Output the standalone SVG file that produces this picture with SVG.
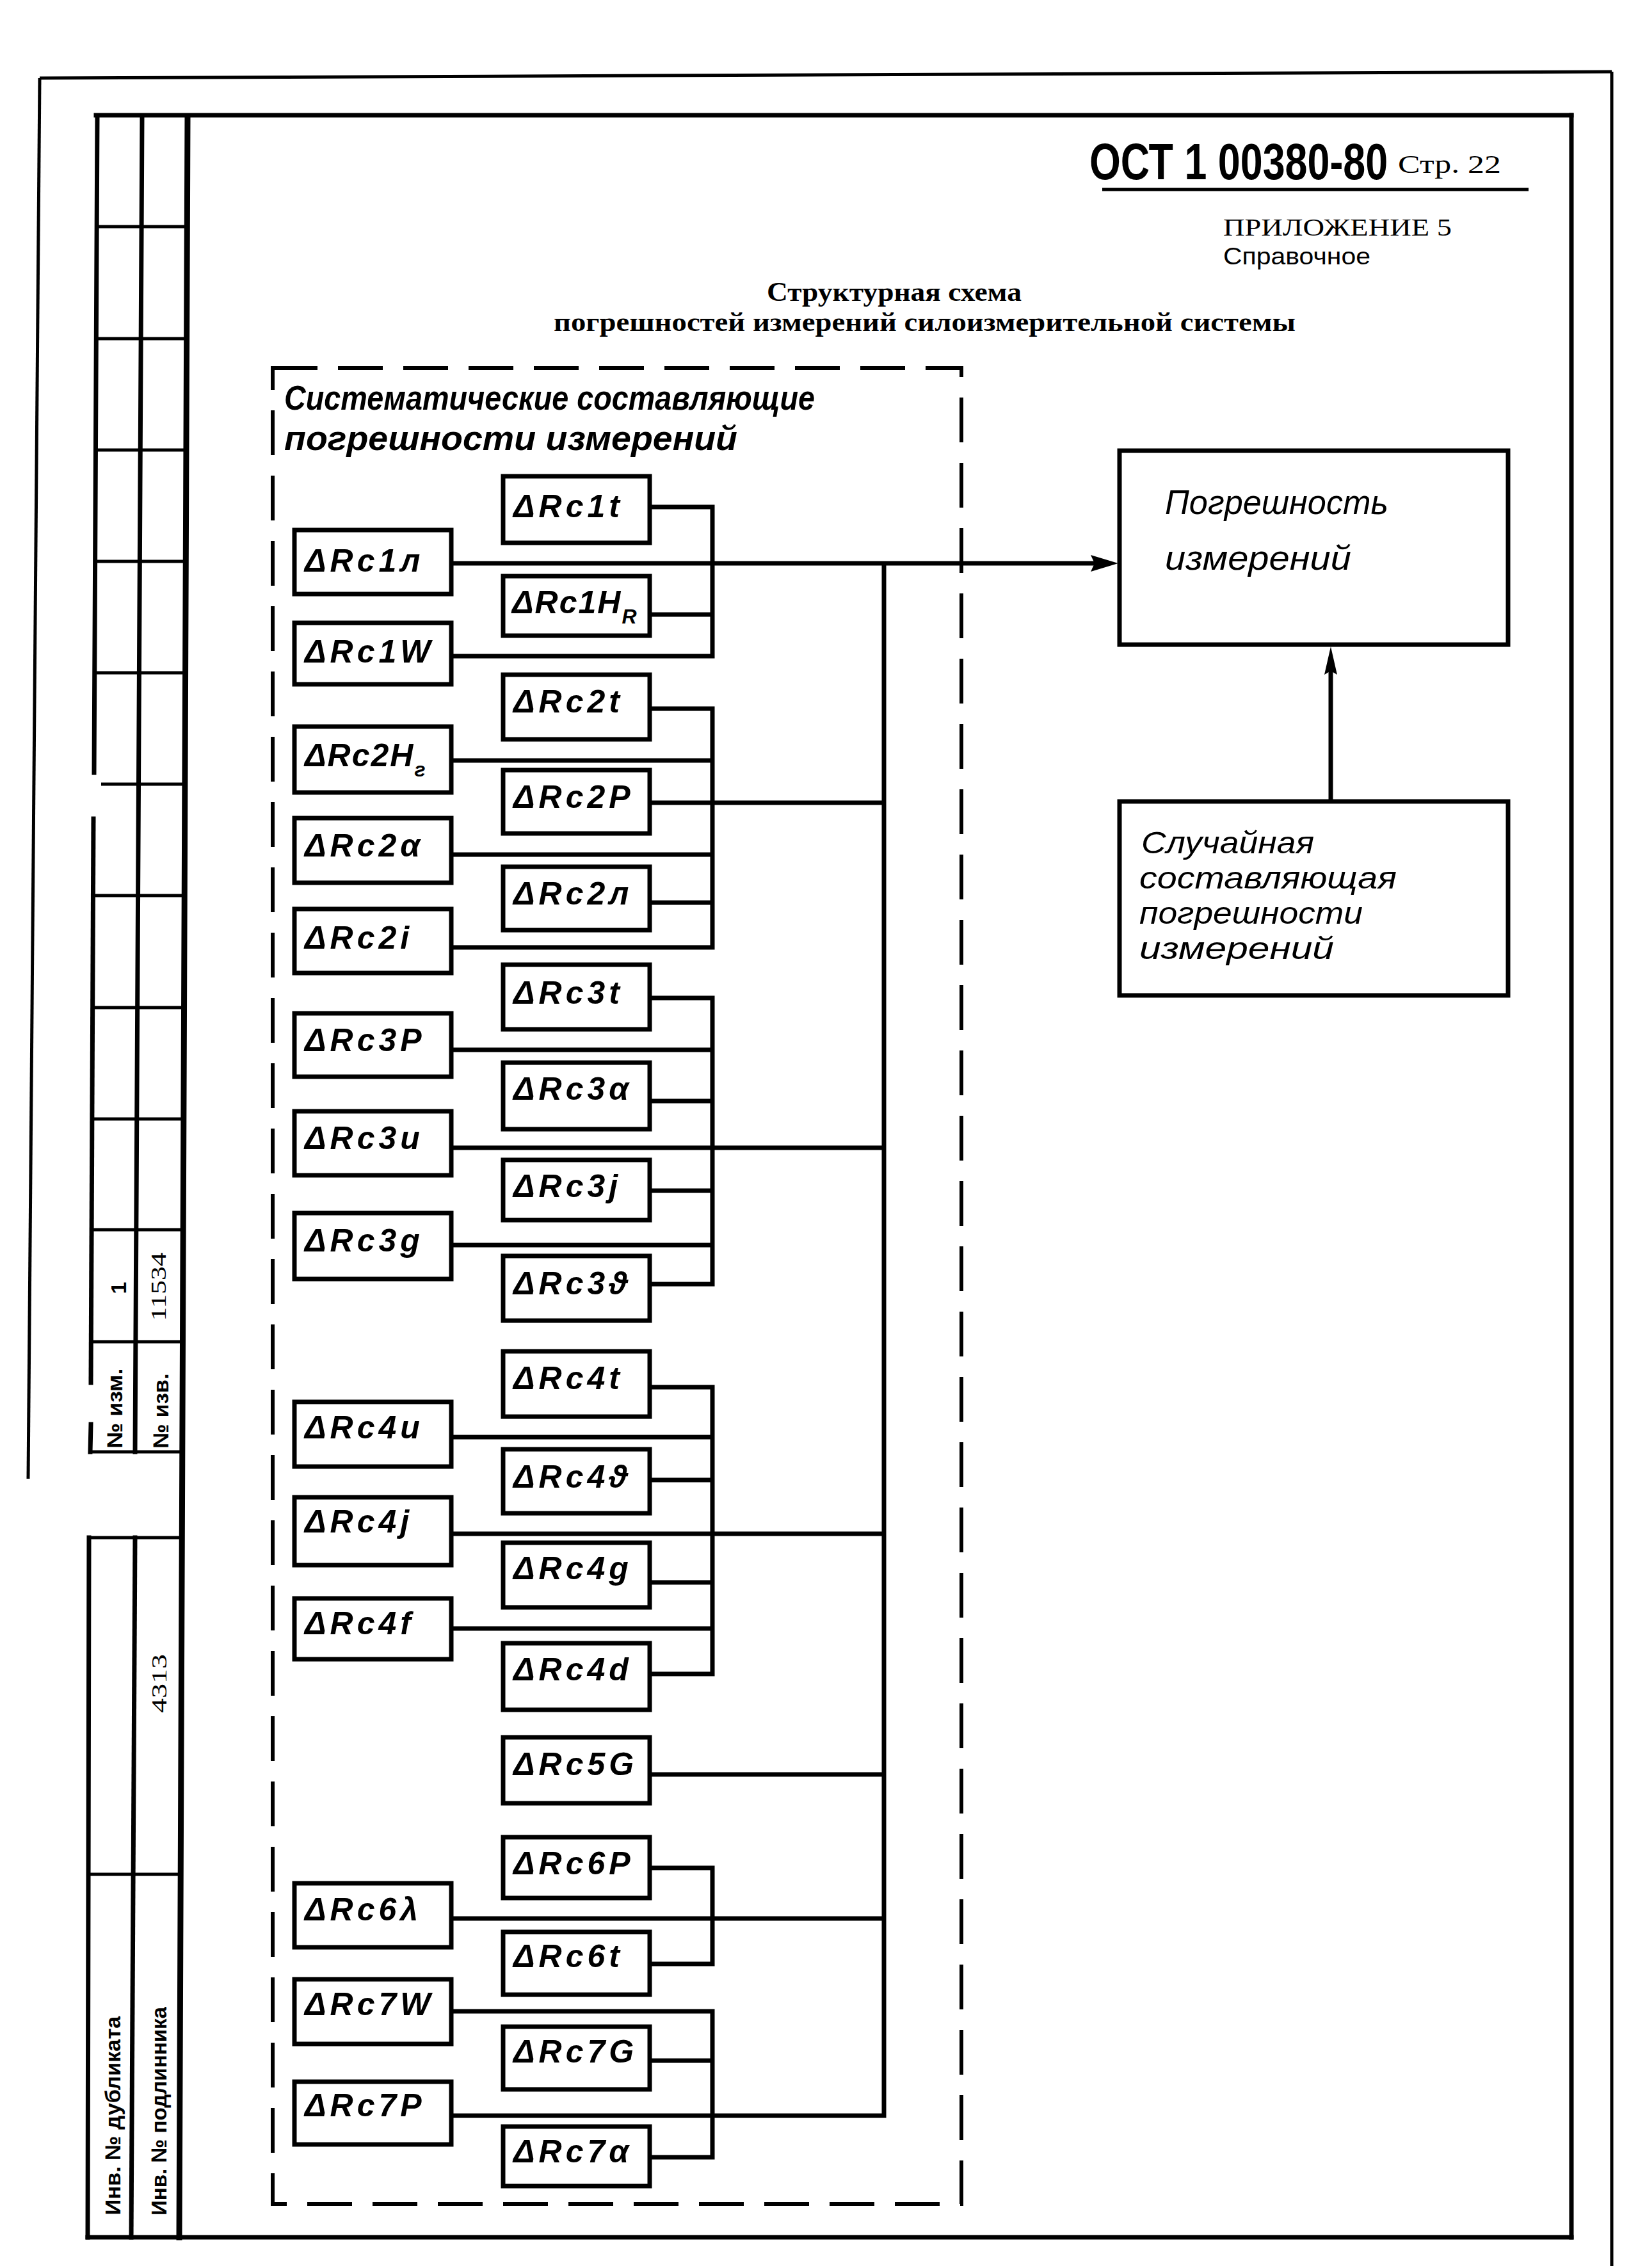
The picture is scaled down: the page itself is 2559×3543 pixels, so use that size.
<svg xmlns="http://www.w3.org/2000/svg" width="2559" height="3543" viewBox="0 0 2559 3543">
<style>
.frame{stroke:#000;stroke-width:7;fill:none;stroke-linecap:square}
.thin{stroke:#000;stroke-width:5;fill:none}
.box{fill:#fff;stroke:#000;stroke-width:7}
.ln{stroke:#000;stroke-width:7;fill:none;stroke-linejoin:miter}
.dash{fill:none;stroke:#000;stroke-width:6;stroke-dasharray:70 32}
.lbl{font-family:"Liberation Sans","DejaVu Sans",sans-serif;font-style:italic;font-weight:bold;font-size:50px;letter-spacing:6px;fill:#000}
.tight{letter-spacing:2px}
.hand{font-family:"Liberation Sans","DejaVu Sans",sans-serif;font-style:italic;font-size:54px;fill:#000}
.rnd{font-size:49px}
.serif{font-family:"Liberation Serif","DejaVu Serif",serif;fill:#000}
.stamp{font-family:"Liberation Sans Narrow","Liberation Sans","DejaVu Sans",sans-serif;font-weight:bold;font-size:34px;fill:#000}
.sub{font-size:32px}
</style>
<rect width="2559" height="3543" fill="#fff"/>

<g id="page-frame">
  <line class="thin" x1="62" y1="122" x2="2518" y2="112"/>
  <line class="thin" x1="62" y1="122" x2="44" y2="2310"/>
  <line class="thin" x1="2518" y1="112" x2="2518" y2="3540"/>
  <line class="frame" x1="150" y1="180" x2="2455" y2="180"/>
  <line class="frame" x1="2455" y1="180" x2="2455" y2="3495"/>
  <line class="frame" x1="137" y1="3495" x2="2455" y2="3495"/>
</g>

<g id="stamp">
  <line class="frame" x1="152" y1="182" x2="147" y2="1207"/>
  <line class="frame" x1="146" y1="1279" x2="142" y2="2160"/>
  <line class="frame" x1="142" y1="2225" x2="141" y2="2268"/>
  <line class="frame" x1="139" y1="2402" x2="137" y2="3495"/>
  <line class="frame" x1="222" y1="182" x2="211" y2="2268"/>
  <line class="frame" x1="211" y1="2402" x2="205" y2="3495"/>
  <line class="frame" x1="293" y1="182" x2="280" y2="3495" style="stroke-width:9"/>
  <g class="thin">
    <line x1="150" y1="354" x2="291" y2="354"/>
    <line x1="150" y1="529" x2="290" y2="529"/>
    <line x1="149" y1="703" x2="290" y2="703"/>
    <line x1="149" y1="877" x2="289" y2="877"/>
    <line x1="148" y1="1051" x2="288" y2="1051"/>
    <line x1="158" y1="1225" x2="288" y2="1225"/>
    <line x1="146" y1="1399" x2="287" y2="1399"/>
    <line x1="145" y1="1574" x2="286" y2="1574"/>
    <line x1="144" y1="1748" x2="285" y2="1748"/>
    <line x1="143" y1="1921" x2="285" y2="1921"/>
    <line x1="142" y1="2096" x2="284" y2="2096"/>
    <line x1="140" y1="2268" x2="283" y2="2268"/>
    <line x1="139" y1="2402" x2="282" y2="2402"/>
    <line x1="138" y1="2928" x2="281" y2="2928"/>
  </g>
  <text class="stamp" x="185" y="2012" text-anchor="middle" dominant-baseline="central" transform="rotate(-90 185 2012)">1</text>
  <text class="stamp" x="247" y="2010" text-anchor="middle" dominant-baseline="central" textLength="107" lengthAdjust="spacingAndGlyphs" transform="rotate(-90 247 2010)" style="font-weight:normal;font-family:'Liberation Serif',serif">11534</text>
  <text class="stamp" x="179" y="2200" text-anchor="middle" dominant-baseline="central" textLength="125" lengthAdjust="spacingAndGlyphs" transform="rotate(-90 179 2200)">№ изм.</text>
  <text class="stamp" x="251" y="2204" text-anchor="middle" dominant-baseline="central" textLength="117" lengthAdjust="spacingAndGlyphs" transform="rotate(-90 251 2204)">№ изв.</text>
  <text class="stamp" x="248" y="2630" text-anchor="middle" dominant-baseline="central" textLength="92" lengthAdjust="spacingAndGlyphs" transform="rotate(-90 248 2630)" style="font-weight:normal;font-family:'Liberation Serif',serif">4313</text>
  <text class="stamp" x="176" y="3305" text-anchor="middle" dominant-baseline="central" textLength="311" lengthAdjust="spacingAndGlyphs" transform="rotate(-90 176 3305)">Инв. № дубликата</text>
  <text class="stamp" x="248" y="3298" text-anchor="middle" dominant-baseline="central" textLength="326" lengthAdjust="spacingAndGlyphs" transform="rotate(-90 248 3298)">Инв. № подлинника</text>
</g>

<g id="header">
  <text transform="translate(1702,280) scale(0.785,1)" font-family="Liberation Sans, DejaVu Sans, sans-serif" font-weight="bold" font-size="80">ОСТ 1 00380-80</text>
  <text class="serif" x="2184" y="270" font-size="40" textLength="161" lengthAdjust="spacingAndGlyphs">Стр. 22</text>
  <line class="thin" x1="1722" y1="296" x2="2388" y2="296"/>
  <text class="serif" x="1911" y="368" font-size="38" textLength="357" lengthAdjust="spacingAndGlyphs">ПРИЛОЖЕНИЕ 5</text>
  <text x="1911" y="413" font-family="Liberation Sans, DejaVu Sans, sans-serif" font-size="37" textLength="230" lengthAdjust="spacingAndGlyphs">Справочное</text>
  <text class="serif" x="1198" y="470" font-size="42" font-weight="bold" textLength="398" lengthAdjust="spacingAndGlyphs">Структурная схема</text>
  <text class="serif" x="865" y="517" font-size="42" font-weight="bold" textLength="1159" lengthAdjust="spacingAndGlyphs">погрешностей измерений силоизмерительной системы</text>
</g>

<g id="systematic-group">
  <rect class="dash" x="426" y="575" width="1076" height="2868"/>
  <text class="hand" x="444" y="640" font-weight="bold" textLength="829" lengthAdjust="spacingAndGlyphs">Систематические составляющие</text>
  <text class="hand" x="444" y="703" font-weight="bold" textLength="708" lengthAdjust="spacingAndGlyphs">погрешности измерений</text>
</g>

<g id="connectors">
  <polyline class="ln" points="1015,792 1113,792 1113,1025 705,1025"/>
  <line class="ln" x1="705" y1="880" x2="1712" y2="880"/>
  <line class="ln" x1="1015" y1="960" x2="1113" y2="960"/>
  <polyline class="ln" points="1015,1107 1113,1107 1113,1480 705,1480"/>
  <line class="ln" x1="705" y1="1188" x2="1113" y2="1188"/>
  <line class="ln" x1="1015" y1="1254" x2="1381" y2="1254"/>
  <line class="ln" x1="705" y1="1335" x2="1113" y2="1335"/>
  <line class="ln" x1="1015" y1="1410" x2="1113" y2="1410"/>
  <polyline class="ln" points="1015,1559 1113,1559 1113,2006 1015,2006"/>
  <line class="ln" x1="705" y1="1640" x2="1113" y2="1640"/>
  <line class="ln" x1="1015" y1="1720" x2="1113" y2="1720"/>
  <line class="ln" x1="705" y1="1793" x2="1381" y2="1793"/>
  <line class="ln" x1="1015" y1="1860" x2="1113" y2="1860"/>
  <line class="ln" x1="705" y1="1945" x2="1113" y2="1945"/>
  <polyline class="ln" points="1015,2167 1113,2167 1113,2615 1015,2615"/>
  <line class="ln" x1="705" y1="2245" x2="1113" y2="2245"/>
  <line class="ln" x1="1015" y1="2312" x2="1113" y2="2312"/>
  <line class="ln" x1="705" y1="2396" x2="1381" y2="2396"/>
  <line class="ln" x1="1015" y1="2472" x2="1113" y2="2472"/>
  <line class="ln" x1="705" y1="2544" x2="1113" y2="2544"/>
  <line class="ln" x1="1015" y1="2772" x2="1381" y2="2772"/>
  <polyline class="ln" points="1015,2918 1113,2918 1113,3068 1015,3068"/>
  <line class="ln" x1="705" y1="2997" x2="1381" y2="2997"/>
  <polyline class="ln" points="705,3142 1113,3142 1113,3370 1015,3370"/>
  <line class="ln" x1="1015" y1="3219" x2="1113" y2="3219"/>
  <polyline class="ln" points="705,3305 1381,3305 1381,880"/>
  <polygon points="1747,880 1704,867 1710,880 1704,893" fill="#000"/>
  <line class="ln" x1="2079" y1="1251" x2="2079" y2="1045"/>
  <polygon points="2079,1010 2069,1054 2079,1048 2089,1054" fill="#000"/>
</g>

<g id="n-error">
  <rect class="box" x="1749" y="704" width="607" height="303"/>
  <text class="hand" x="1820" y="803" textLength="349" lengthAdjust="spacingAndGlyphs">Погрешность</text>
  <text class="hand" x="1820" y="890" textLength="291" lengthAdjust="spacingAndGlyphs">измерений</text>
</g>
<g id="n-random">
  <rect class="box" x="1749" y="1252" width="607" height="303"/>
  <text class="hand rnd" x="1783" y="1333" textLength="270" lengthAdjust="spacingAndGlyphs">Случайная</text>
  <text class="hand rnd" x="1780" y="1388" textLength="402" lengthAdjust="spacingAndGlyphs">составляющая</text>
  <text class="hand rnd" x="1780" y="1443" textLength="349" lengthAdjust="spacingAndGlyphs">погрешности</text>
  <text class="hand rnd" x="1780" y="1498" textLength="304" lengthAdjust="spacingAndGlyphs">измерений</text>
</g>

<g id="n-rc1t"><rect class="box" x="786" y="744" width="229" height="104"/><text class="lbl" x="802" y="808">ΔRc1t</text></g>
<g id="n-rc1l"><rect class="box" x="460" y="828" width="245" height="100"/><text class="lbl" x="476" y="893">ΔRc1л</text></g>
<g id="n-rc1hr"><rect class="box" x="786" y="900" width="229" height="93"/><text class="lbl tight" x="800" y="958">ΔRc1H<tspan class="sub" dy="16">R</tspan></text></g>
<g id="n-rc1w"><rect class="box" x="460" y="973" width="245" height="96"/><text class="lbl" x="476" y="1035">ΔRc1W</text></g>

<g id="n-rc2t"><rect class="box" x="786" y="1054" width="229" height="101"/><text class="lbl" x="802" y="1113">ΔRc2t</text></g>
<g id="n-rc2hg"><rect class="box" x="460" y="1135" width="245" height="103"/><text class="lbl tight" x="476" y="1197">ΔRc2H<tspan class="sub" dy="16">г</tspan></text></g>
<g id="n-rc2p"><rect class="box" x="786" y="1203" width="229" height="99"/><text class="lbl" x="802" y="1262">ΔRc2P</text></g>
<g id="n-rc2a"><rect class="box" x="460" y="1278" width="245" height="101"/><text class="lbl" x="476" y="1338">ΔRc2α</text></g>
<g id="n-rc2l"><rect class="box" x="786" y="1354" width="229" height="99"/><text class="lbl" x="802" y="1413">ΔRc2л</text></g>
<g id="n-rc2i"><rect class="box" x="460" y="1420" width="245" height="100"/><text class="lbl" x="476" y="1482">ΔRc2i</text></g>

<g id="n-rc3t"><rect class="box" x="786" y="1507" width="229" height="101"/><text class="lbl" x="802" y="1568">ΔRc3t</text></g>
<g id="n-rc3p"><rect class="box" x="460" y="1583" width="245" height="99"/><text class="lbl" x="476" y="1642">ΔRc3P</text></g>
<g id="n-rc3a"><rect class="box" x="786" y="1660" width="229" height="104"/><text class="lbl" x="802" y="1718">ΔRc3α</text></g>
<g id="n-rc3u"><rect class="box" x="460" y="1736" width="245" height="100"/><text class="lbl" x="476" y="1795">ΔRc3u</text></g>
<g id="n-rc3j"><rect class="box" x="786" y="1812" width="229" height="94"/><text class="lbl" x="802" y="1870">ΔRc3j</text></g>
<g id="n-rc3g"><rect class="box" x="460" y="1895" width="245" height="103"/><text class="lbl" x="476" y="1955">ΔRc3g</text></g>
<g id="n-rc3v"><rect class="box" x="786" y="1962" width="229" height="101"/><text class="lbl" x="802" y="2022">ΔRc3ϑ</text></g>

<g id="n-rc4t"><rect class="box" x="786" y="2111" width="229" height="102"/><text class="lbl" x="802" y="2170">ΔRc4t</text></g>
<g id="n-rc4u"><rect class="box" x="460" y="2190" width="245" height="101"/><text class="lbl" x="476" y="2247">ΔRc4u</text></g>
<g id="n-rc4v"><rect class="box" x="786" y="2264" width="229" height="100"/><text class="lbl" x="802" y="2324">ΔRc4ϑ</text></g>
<g id="n-rc4j"><rect class="box" x="460" y="2339" width="245" height="106"/><text class="lbl" x="476" y="2394">ΔRc4j</text></g>
<g id="n-rc4g"><rect class="box" x="786" y="2410" width="229" height="101"/><text class="lbl" x="802" y="2467">ΔRc4g</text></g>
<g id="n-rc4f"><rect class="box" x="460" y="2497" width="245" height="95"/><text class="lbl" x="476" y="2553">ΔRc4f</text></g>
<g id="n-rc4d"><rect class="box" x="786" y="2567" width="229" height="104"/><text class="lbl" x="802" y="2625">ΔRc4d</text></g>

<g id="n-rc5g"><rect class="box" x="786" y="2714" width="229" height="103"/><text class="lbl" x="802" y="2773">ΔRc5G</text></g>

<g id="n-rc6p"><rect class="box" x="786" y="2870" width="229" height="95"/><text class="lbl" x="802" y="2928">ΔRc6P</text></g>
<g id="n-rc6l"><rect class="box" x="460" y="2942" width="245" height="100"/><text class="lbl" x="476" y="3000">ΔRc6λ</text></g>
<g id="n-rc6t"><rect class="box" x="786" y="3018" width="229" height="98"/><text class="lbl" x="802" y="3073">ΔRc6t</text></g>

<g id="n-rc7w"><rect class="box" x="460" y="3092" width="245" height="101"/><text class="lbl" x="476" y="3148">ΔRc7W</text></g>
<g id="n-rc7g"><rect class="box" x="786" y="3166" width="229" height="98"/><text class="lbl" x="802" y="3222">ΔRc7G</text></g>
<g id="n-rc7p"><rect class="box" x="460" y="3252" width="245" height="98"/><text class="lbl" x="476" y="3306">ΔRc7P</text></g>
<g id="n-rc7a"><rect class="box" x="786" y="3322" width="229" height="93"/><text class="lbl" x="802" y="3378">ΔRc7α</text></g>
</svg>
